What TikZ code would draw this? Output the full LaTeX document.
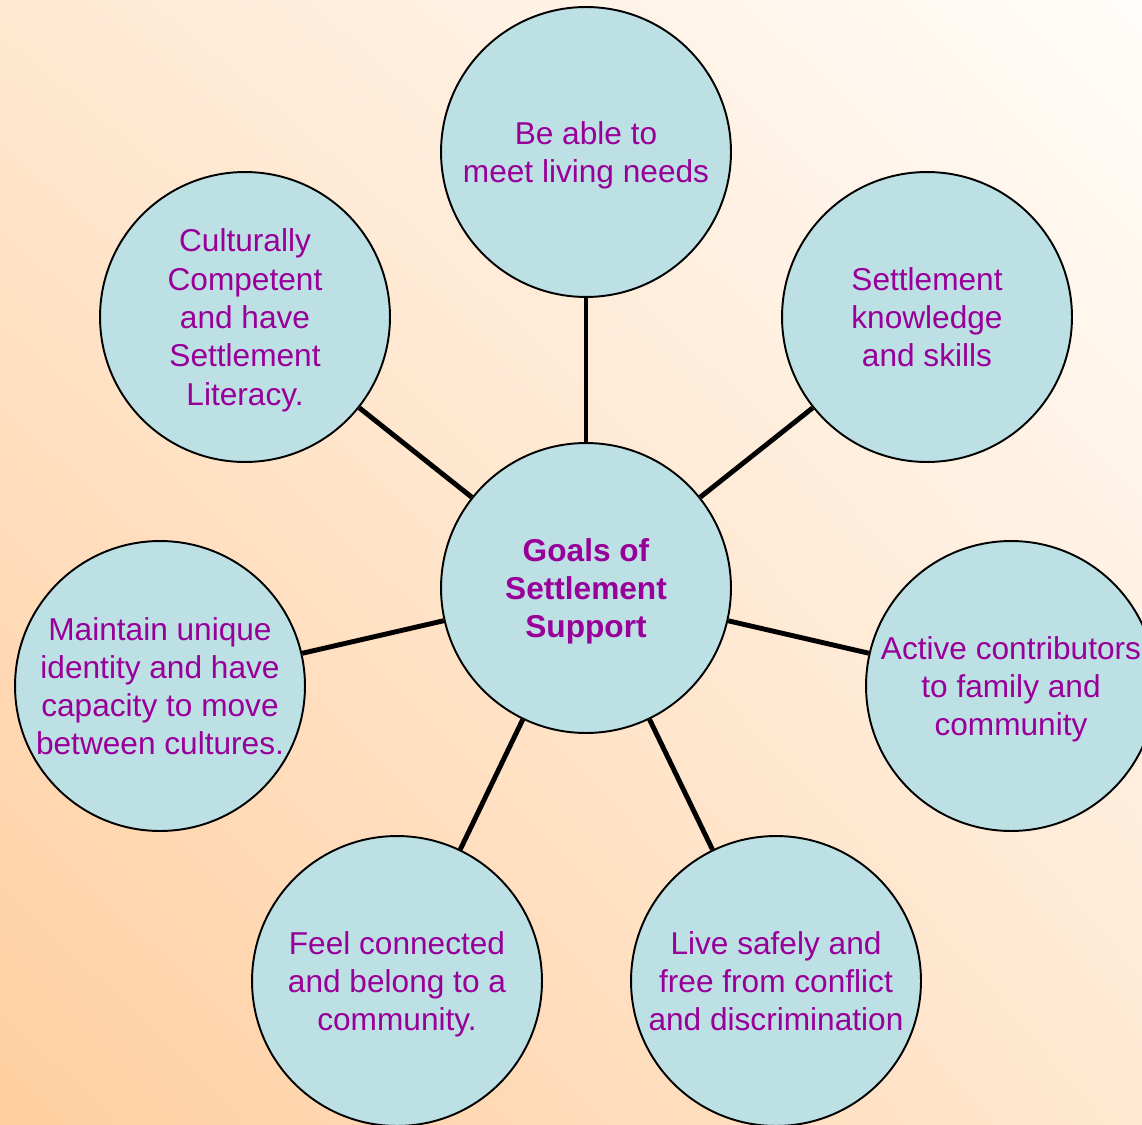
\documentclass[tikz,border=0pt]{standalone}
\usepackage{fontspec}
\setmainfont{Liberation Sans}
\usetikzlibrary{shadings}
\definecolor{goalfill}{HTML}{BCE0E3}
\definecolor{goaltext}{HTML}{990099}
\definecolor{peach}{HTML}{FFCE9F}
\definecolor{cream}{HTML}{FFFDFA}
\begin{document}
\begin{tikzpicture}[x=0.02cm,y=-0.02cm,
  goal/.style={circle,draw=black,line width=1.1pt,fill=goalfill,minimum size=5.8cm,
    inner sep=0pt,align=center,text=goaltext,text depth=-0.6pt,
    font=\fontsize{18}{21.8}\selectfont},
  spoke/.style={line width=2.8pt}]
\shade[lower left=peach,upper right=cream,upper left=peach!45!cream,lower right=peach!45!cream](0,0)rectangle(1142,1125);
\useasboundingbox(0,0)rectangle(1142,1125);
\node[goal,font=\bfseries\fontsize{18}{21.8}\selectfont](hub)at(586,588){Goals of\\Settlement\\Support};
\node[goal](needs)at(586,152){Be able to\\meet living needs};
\node[goal](culture)at(245,317){Culturally\\Competent\\and have\\Settlement\\Literacy.};
\node[goal](skills)at(927,317){Settlement\\knowledge\\and skills};
\node[goal](identity)at(160,686){Maintain unique\\identity and have\\capacity to move\\between cultures.};
\node[goal](contrib)at(1011,686){Active contributors\\to family and\\community};
\node[goal](belong)at(397,981){Feel connected\\and belong to a\\community.};
\node[goal](safety)at(776,981){Live safely and\\free from conflict\\and discrimination};
\foreach \g in {needs,culture,skills,identity,contrib,belong,safety}
  \draw[spoke](hub)--(\g);
\end{tikzpicture}
\end{document}
